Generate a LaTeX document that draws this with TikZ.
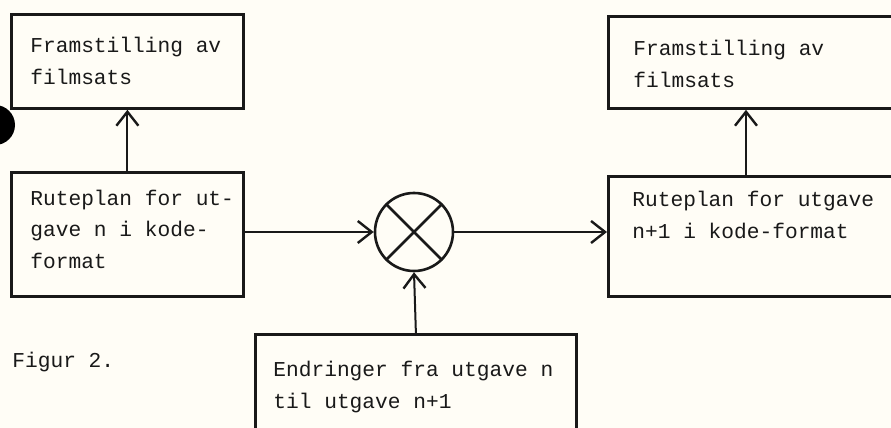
\documentclass[tikz,border=0pt]{standalone}
\usepackage{fontspec}
\setmonofont{Liberation Mono}
\usetikzlibrary{arrows.meta, calc}
\definecolor{paper}{RGB}{255,253,246}
\definecolor{ink}{RGB}{25,25,25}

\begin{document}
\begin{tikzpicture}[
  x=0.5pt, y=-0.5pt,
  box/.style={draw=ink, line width=1.4pt, rectangle, anchor=north west, inner sep=0pt},
  txt/.style={anchor=base west, inner sep=0pt, align=left, text=ink,
    font=\ttfamily\fontsize{10.6}{15.6}\selectfont},
  arr/.style={draw=ink, line width=1pt, -{Straight Barb[length=7pt, width=11pt, line width=1.2pt]}}
]
  \useasboundingbox (0,0) rectangle (891,428);
  \clip (0,0) rectangle (891,428);
  \fill[paper] (0,0) rectangle (891,428);
  \fill[black] (-5,125) circle[radius=10pt];

  \node[box, minimum width=116pt, minimum height=47pt] (filmA) at (10,13) {};
  \node[box, minimum width=116pt, minimum height=62pt] (ruteA) at (10,171) {};
  \node[box, minimum width=150pt, minimum height=46pt] (filmB) at (607,15) {};
  \node[box, minimum width=150pt, minimum height=60pt] (ruteB) at (607,175) {};
  \node[box, minimum width=160.5pt, minimum height=60pt] (endr) at (254,333) {};
  \node[draw=ink, line width=1.3pt, circle, minimum size=39pt, inner sep=0pt] (mix) at (414,232) {};
  \draw[ink, line width=1.3pt] (mix.north west) -- (mix.south east)
                               (mix.north east) -- (mix.south west);

  % text sits on the baseline of its last line
  \node[txt] (filmAtxt) at (30,84) {Framstilling av\\filmsats};
  \node[txt] (ruteAtxt) at (30,268) {Ruteplan for ut-\\gave n i kode-\\format};
  \node[txt] (filmBtxt) at (633,87) {Framstilling av\\filmsats};
  \node[txt] (ruteBtxt) at (632,238) {Ruteplan for utgave\\n+1 i kode-format};
  \node[txt] (endrtxt) at (273,408) {Endringer fra utgave n\\til utgave n+1};
  \node[txt] (figur) at (12,367) {Figur 2.};

  % flow through the mixer
  \draw[arr] (ruteA.north) -- (ruteA.north |- filmA.south);
  \draw[arr] (ruteA.east |- mix.west) -- (mix.west);
  \draw[arr] (mix.east) -- (ruteB.west |- mix.east);
  \draw[arr] (endr.north) -- (mix.south);
  \draw[arr] ($(ruteB.north west)+(139,0)$) -- ($(filmB.south west)+(139,0)$);
\end{tikzpicture}
\end{document}
